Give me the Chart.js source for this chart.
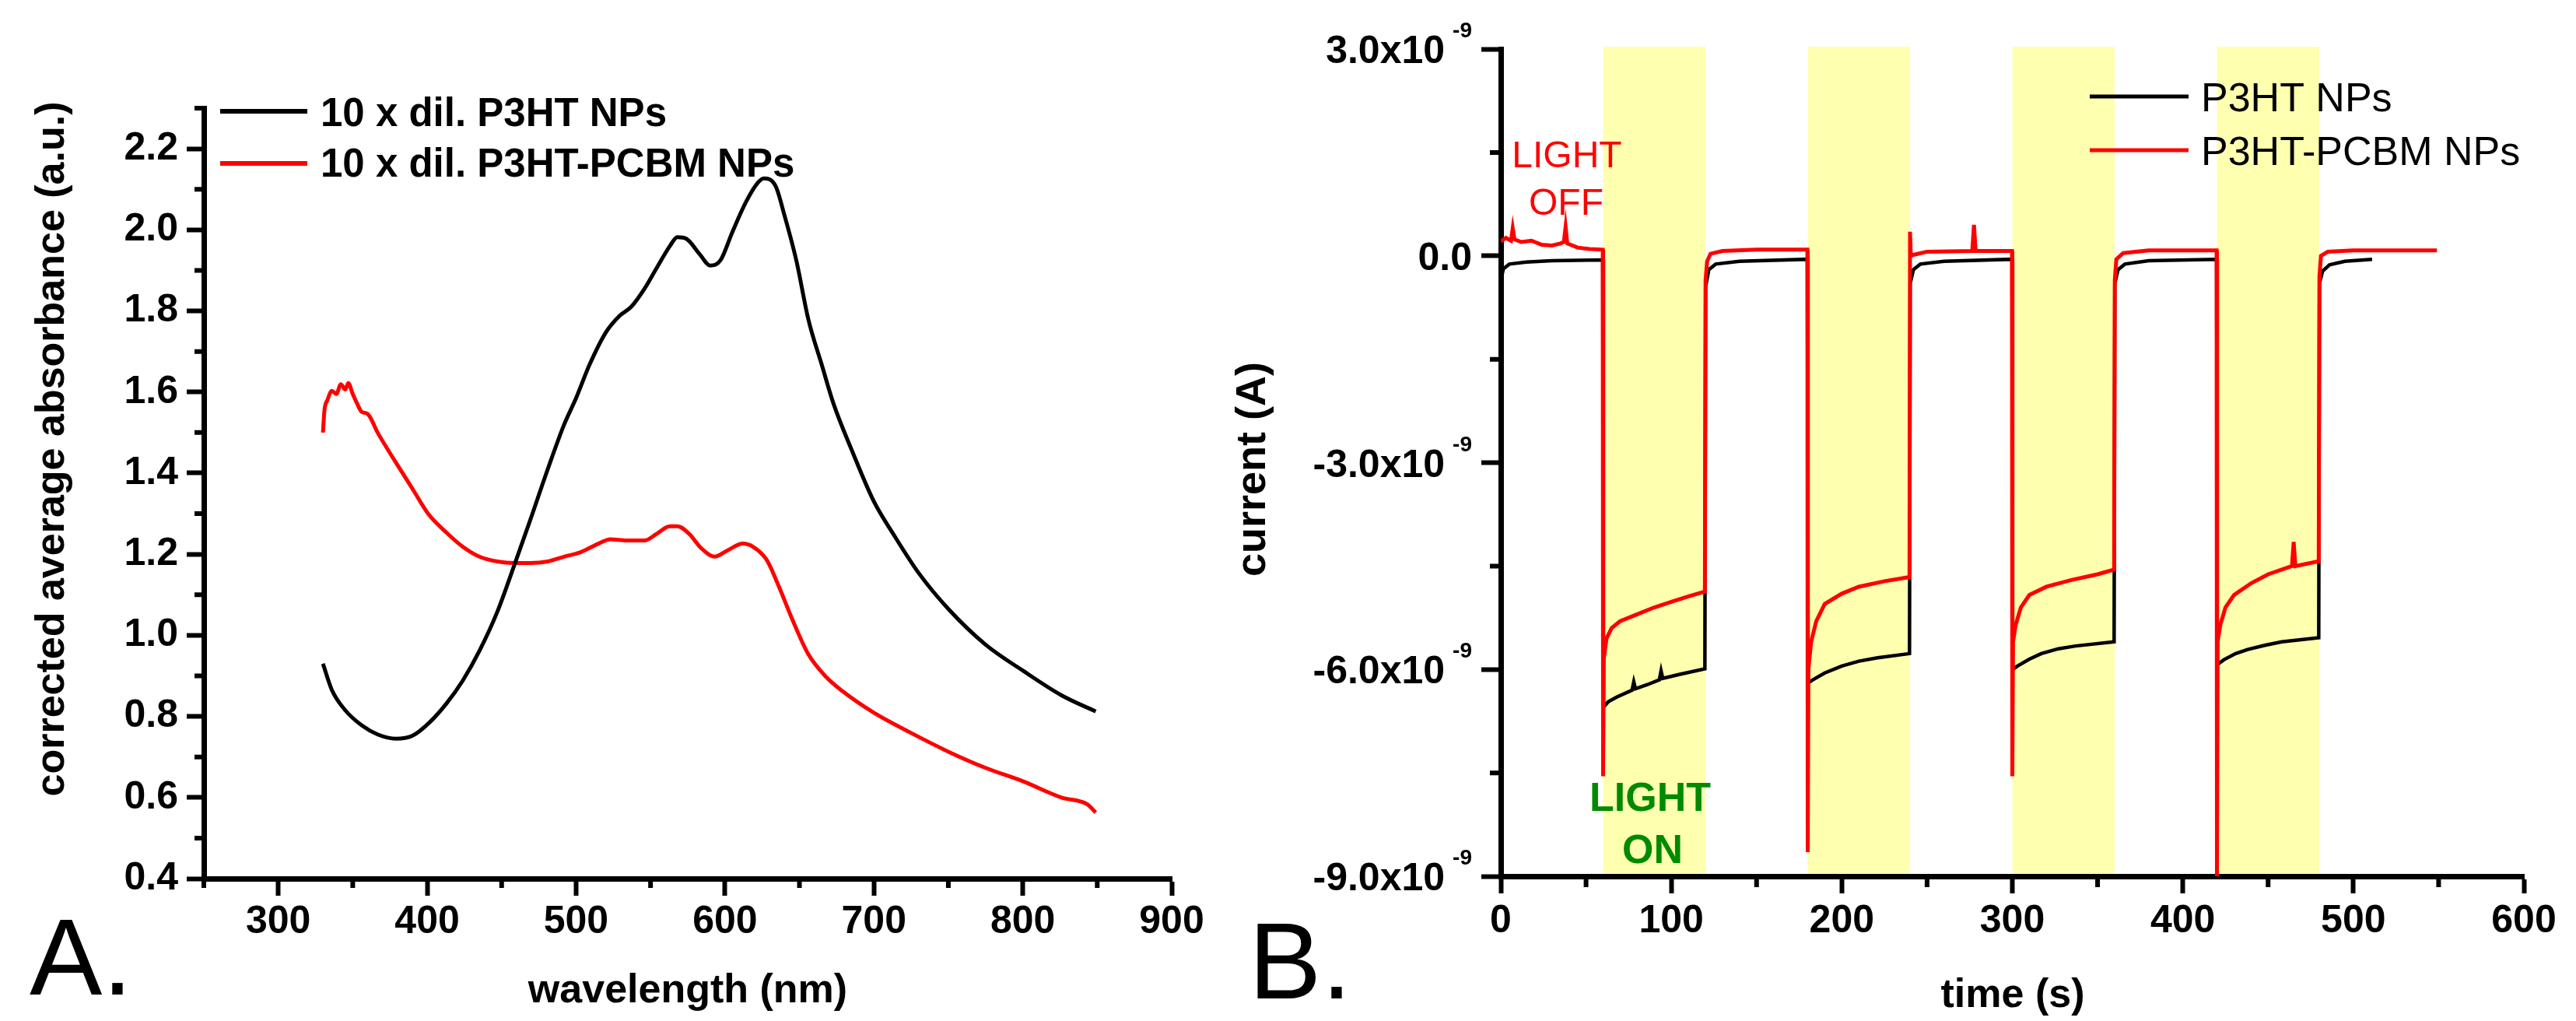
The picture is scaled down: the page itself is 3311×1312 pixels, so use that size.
<!DOCTYPE html>
<html lang="en">
<head>
<meta charset="UTF-8">
<title>P3HT NPs: absorbance and photocurrent</title>
<script src="https://cdn.jsdelivr.net/npm/chart.js"></script>
<style>
  body { margin: 0; background: #fff; width: 3311px; height: 1312px; position: relative; overflow: hidden; }
  canvas { position: absolute; top: 0; }
  #chartA { left: 0; }
  #chartB { left: 1560px; }
</style>
</head>
<body>
<canvas id="chartA" width="1560" height="1312"></canvas>
<canvas id="chartB" width="1751" height="1312"></canvas>
<script>
// ---- Panel A : absorbance spectra ----
const wavelengthP3HT = [330, 336, 345, 356, 367, 379, 390, 401, 413, 424, 435, 447, 459, 469, 481, 492, 500, 509,
  520, 529, 537, 546, 554, 563, 568, 574, 583, 590, 597, 605, 614, 622, 626, 634, 640, 648, 656, 665, 673, 685,
  700, 713, 730, 750, 775, 800, 826, 849];
const absorbanceP3HT = [0.93, 0.865, 0.815, 0.778, 0.755, 0.745, 0.752, 0.783, 0.832, 0.889, 0.961, 1.057, 1.178,
  1.282, 1.41, 1.52, 1.585, 1.667, 1.747, 1.787, 1.81, 1.855, 1.905, 1.96, 1.982, 1.978, 1.94, 1.912, 1.925, 1.995,
  2.068, 2.116, 2.127, 2.108, 2.035, 1.923, 1.779, 1.667, 1.57, 1.458, 1.33, 1.25, 1.154, 1.065, 0.977, 0.913,
  0.852, 0.812];

const wavelengthBlend = [330, 331, 333, 336, 339, 342, 345, 347, 350, 353, 356, 360, 367, 379, 390, 401, 413, 424,
  435, 447, 459, 469, 481, 492, 503, 515, 523, 534, 546, 554, 563, 568, 576, 584, 593, 602, 612, 619, 628, 636,
  645, 656, 668, 679, 700, 724, 750, 775, 800, 826, 843, 849];
const absorbanceBlend = [1.5, 1.555, 1.58, 1.603, 1.595, 1.619, 1.606, 1.622, 1.595, 1.571, 1.551, 1.546, 1.498,
  1.426, 1.362, 1.298, 1.253, 1.218, 1.194, 1.182, 1.178, 1.178, 1.182, 1.194, 1.205, 1.226, 1.237, 1.234, 1.234,
  1.25, 1.269, 1.269, 1.25, 1.215, 1.194, 1.21, 1.226, 1.218, 1.186, 1.122, 1.041, 0.953, 0.897, 0.862, 0.809,
  0.761, 0.713, 0.673, 0.64, 0.6, 0.584, 0.563];

// ---- Panel B : photocurrent vs time, in units of 1e-9 A ----
const timeP3HT = [0, 1.5, 5, 15, 30, 59.8, 60.2, 63, 68, 77, 78, 79, 86, 93, 94, 95, 105, 119.7,
  120.1, 122, 126, 140, 179.8, 180.2, 183, 190, 200, 210, 221, 239.7,
  240.1, 242, 246, 260, 299.8, 300.2, 303, 310, 317, 327, 337, 359.7,
  360.1, 362, 366, 380, 419.8, 420.2, 424, 431, 438, 448, 458, 479.7,
  480.1, 482, 486, 495, 511];
const currentP3HT = [-0.36, -0.19, -0.12, -0.09, -0.07, -0.06, -6.55, -6.47, -6.4, -6.3, -6.18, -6.28, -6.22, -6.15, -6.02, -6.13, -6.07, -5.99,
  -0.45, -0.2, -0.12, -0.08, -0.05, -6.2, -6.15, -6.05, -5.95, -5.88, -5.83, -5.77,
  -0.4, -0.2, -0.12, -0.08, -0.05, -6.0, -5.95, -5.85, -5.77, -5.7, -5.66, -5.6,
  -0.4, -0.2, -0.12, -0.07, -0.05, -5.93, -5.86, -5.77, -5.71, -5.65, -5.6, -5.54,
  -0.4, -0.22, -0.13, -0.08, -0.05];

const timeBlend = [0, 3, 6, 7, 8, 12, 18, 24, 30, 35, 37, 38, 39, 45, 52, 59.8,
  60, 60.4, 62, 65, 70, 80, 90, 100, 110, 119.7, 120.1, 121, 123, 130, 150, 179.8,
  180, 180.4, 182, 185, 190, 200, 210, 225, 239.7, 240, 240.5, 243, 250, 276.5, 277.5, 278.5, 299.8,
  300, 300.4, 302, 305, 310, 320, 335, 350, 359.7, 360.1, 361, 365, 380, 419.8,
  420, 420.4, 422, 425, 430, 440, 450, 464, 465, 466, 479.7, 480.1, 481, 485, 500, 530, 549];
const currentBlend = [0.21, 0.26, 0.22, 0.4, 0.24, 0.2, 0.22, 0.16, 0.15, 0.18, 0.2, 0.42, 0.18, 0.12, 0.1, 0.09,
  -7.55, -5.85, -5.55, -5.4, -5.3, -5.2, -5.1, -5.02, -4.94, -4.87, -0.35, -0.08, 0.03, 0.07, 0.09, 0.09,
  -8.65, -6.0, -5.6, -5.3, -5.05, -4.9, -4.8, -4.72, -4.66, 0.35, 0.0, 0.02, 0.06, 0.07, 0.45, 0.07, 0.07,
  -7.55, -5.6, -5.35, -5.1, -4.92, -4.8, -4.7, -4.62, -4.55, -0.35, -0.05, 0.04, 0.08, 0.08,
  -9.0, -5.6, -5.35, -5.1, -4.92, -4.75, -4.62, -4.5, -4.15, -4.5, -4.43, -0.3, 0.0, 0.06, 0.08, 0.08, 0.08];

const lightOnStart = [60, 180, 300, 420];
const lightOnEnd = [120, 240, 360, 480];

// minor tick values
const minorWavelength = [250, 350, 450, 550, 650, 750, 850];
const minorAbsorbance = [0.5, 0.7, 0.9, 1.1, 1.3, 1.5, 1.7, 1.9, 2.1, 2.3];
const minorTime = [50, 150, 250, 350, 450, 550];
const minorCurrent = [-7.5, -4.5, -1.5, 1.5];

const FONT = '"Liberation Sans", Arial, sans-serif';
Chart.defaults.font.family = FONT;
Chart.defaults.color = '#000';

function pairs(xs, ys) {
  return xs.map((x, i) => ({ x: x, y: ys[i] }));
}

function drawText(ctx, t) {
  ctx.save();
  ctx.font = t.font;
  ctx.fillStyle = t.color || '#000';
  ctx.textAlign = t.align || 'center';
  ctx.textBaseline = t.baseline || 'alphabetic';
  ctx.translate(t.x, t.y);
  if (t.rotate) ctx.rotate(t.rotate);
  ctx.fillText(t.text, 0, 0);
  ctx.restore();
}

// bands, minor ticks, legend, free texts
function decor(cfg) {
  return {
    id: 'decor',
    beforeDraw(chart) {
      if (!cfg.bands) return;
      const { ctx, chartArea: a, scales: { x } } = chart;
      ctx.save();
      ctx.fillStyle = cfg.bands.color;
      cfg.bands.starts.forEach((s, i) => {
        const x1 = x.getPixelForValue(s);
        const x2 = x.getPixelForValue(cfg.bands.ends[i]);
        ctx.fillRect(x1, a.top - 3, x2 - x1, a.bottom - a.top);
      });
      ctx.restore();
    },
    afterDraw(chart) {
      const { ctx, chartArea: a, scales: { x, y } } = chart;
      ctx.save();
      ctx.strokeStyle = '#000';
      ctx.lineWidth = cfg.minorWidth;
      ctx.beginPath();
      cfg.minorX.forEach(v => {
        const px = x.getPixelForValue(v);
        ctx.moveTo(px, a.bottom);
        ctx.lineTo(px, a.bottom + cfg.minorLen);
      });
      cfg.minorY.forEach(v => {
        const py = y.getPixelForValue(v);
        ctx.moveTo(a.left, py);
        ctx.lineTo(a.left - cfg.minorLen, py);
      });
      ctx.stroke();

      const L = cfg.legend;
      chart.data.datasets.forEach((ds, i) => {
        ctx.strokeStyle = ds.borderColor;
        ctx.lineWidth = L.lineWidth;
        ctx.beginPath();
        ctx.moveTo(L.x1, L.y[i]);
        ctx.lineTo(L.x2, L.y[i]);
        ctx.stroke();
        drawText(ctx, { text: ds.label, x: L.textX, y: L.base[i], font: L.font, align: 'left' });
      });

      // y labels written as 3.0x10^-9
      if (cfg.expLabels) {
        const E = cfg.expLabels;
        y.ticks.forEach(tk => {
          const base = y.getPixelForValue(tk.value) + 18;
          if (tk.value === 0) {
            drawText(ctx, { text: '0.0', x: E.right, y: base, font: E.font, align: 'right' });
            return;
          }
          ctx.font = E.supFont;
          const supW = ctx.measureText('-9').width;
          drawText(ctx, { text: '-9', x: E.right, y: base - 33, font: E.supFont, align: 'right' });
          drawText(ctx, { text: tk.value.toFixed(1) + 'x10', x: E.right - supW - 10, y: base, font: E.font, align: 'right' });
        });
      }

      cfg.texts.forEach(t => drawText(ctx, t));
      ctx.restore();
    }
  };
}

// ---------- Panel A ----------
new Chart(document.getElementById('chartA'), {
  type: 'line',
  data: {
    datasets: [
      {
        label: '10 x dil. P3HT NPs',
        data: pairs(wavelengthP3HT, absorbanceP3HT),
        borderColor: '#000000',
        borderWidth: 5,
        pointRadius: 0,
        cubicInterpolationMode: 'monotone'
      },
      {
        label: '10 x dil. P3HT-PCBM NPs',
        data: pairs(wavelengthBlend, absorbanceBlend),
        borderColor: '#ff0000',
        borderWidth: 5,
        pointRadius: 0,
        cubicInterpolationMode: 'monotone'
      }
    ]
  },
  options: {
    responsive: false,
    animation: false,
    devicePixelRatio: 1,
    layout: { padding: { left: 0, top: 139, right: 54, bottom: 0 } },
    plugins: { legend: { display: false }, tooltip: { enabled: false } },
    scales: {
      x: {
        type: 'linear',
        min: 250, max: 900,
        afterFit: s => { s.height = 183; },
        border: { width: 7, color: '#000' },
        grid: { drawOnChartArea: false, tickLength: 22, tickWidth: 6, tickColor: '#000' },
        ticks: { stepSize: 100, includeBounds: false, padding: 4, font: { size: 50, weight: 'bold' } }
      },
      y: {
        type: 'linear',
        min: 0.4, max: 2.3,
        afterFit: s => { s.width = 262; },
        border: { width: 7, color: '#000' },
        grid: { drawOnChartArea: false, tickLength: 22, tickWidth: 6, tickColor: '#000' },
        ticks: {
          stepSize: 0.2, includeBounds: false, padding: 11,
          font: { size: 50, weight: 'bold' },
          callback: v => v.toFixed(1)
        }
      }
    }
  },
  plugins: [decor({
    minorX: minorWavelength, minorY: minorAbsorbance, minorLen: 12, minorWidth: 6,
    legend: { x1: 283, x2: 395, y: [143, 210], textX: 412, base: [162, 227], lineWidth: 6, font: 'bold 51px ' + FONT },
    texts: [
      { text: 'A.', x: 38, y: 1278, font: '140px ' + FONT, align: 'left' },
      { text: 'corrected average absorbance (a.u.)', x: 68, y: 577, font: 'bold 52px ' + FONT, baseline: 'middle', rotate: -Math.PI / 2 },
      { text: 'wavelength (nm)', x: 884, y: 1274, font: 'bold 52px ' + FONT, baseline: 'middle' }
    ]
  })]
});

// ---------- Panel B ----------
new Chart(document.getElementById('chartB'), {
  type: 'line',
  data: {
    datasets: [
      {
        label: 'P3HT NPs',
        data: pairs(timeP3HT, currentP3HT),
        borderColor: '#000000',
        borderWidth: 4.5,
        pointRadius: 0,
        tension: 0,
        order: 1
      },
      {
        label: 'P3HT-PCBM NPs',
        data: pairs(timeBlend, currentBlend),
        borderColor: '#ff0000',
        borderWidth: 5,
        pointRadius: 0,
        tension: 0,
        order: 0
      }
    ]
  },
  options: {
    responsive: false,
    animation: false,
    devicePixelRatio: 1,
    layout: { padding: { left: 0, top: 63, right: 67, bottom: 0 } },
    plugins: { legend: { display: false }, tooltip: { enabled: false } },
    scales: {
      x: {
        type: 'linear',
        min: 0, max: 600,
        afterFit: s => { s.height = 186; },
        border: { width: 7, color: '#000' },
        grid: { drawOnChartArea: false, tickLength: 22, tickWidth: 6, tickColor: '#000' },
        ticks: { stepSize: 100, padding: 6, font: { size: 50, weight: 'bold' } }
      },
      y: {
        type: 'linear',
        min: -9, max: 3,
        afterFit: s => { s.width = 369; },
        border: { width: 7, color: '#000' },
        grid: { drawOnChartArea: false, tickLength: 25, tickWidth: 6, tickColor: '#000' },
        ticks: { stepSize: 3, display: false }
      }
    }
  },
  plugins: [decor({
    bands: { starts: lightOnStart, ends: lightOnEnd, color: '#ffffb0' },
    minorX: minorTime, minorY: minorCurrent, minorLen: 14, minorWidth: 6,
    legend: { x1: 1126, x2: 1253, y: [124, 193], textX: 1269, base: [143, 212], lineWidth: 5, font: '52px ' + FONT },
    expLabels: { right: 332, font: 'bold 50px ' + FONT, supFont: 'bold 28px ' + FONT },
    texts: [
      { text: 'B.', x: 45, y: 1283, font: '140px ' + FONT, align: 'left' },
      { text: 'current (A)', x: 51, y: 603, font: 'bold 54px ' + FONT, baseline: 'middle', rotate: -Math.PI / 2 },
      { text: 'time (s)', x: 1027, y: 1280, font: 'bold 52px ' + FONT, baseline: 'middle' },
      { text: 'LIGHT', x: 454, y: 215, font: '48px ' + FONT, color: '#ff0000' },
      { text: 'OFF', x: 453, y: 276, font: '48px ' + FONT, color: '#ff0000' },
      { text: 'LIGHT', x: 561, y: 1042, font: 'bold 52px ' + FONT, color: '#008a00' },
      { text: 'ON', x: 564, y: 1109, font: 'bold 52px ' + FONT, color: '#008a00' }
    ]
  })]
});
</script>
</body>
</html>
